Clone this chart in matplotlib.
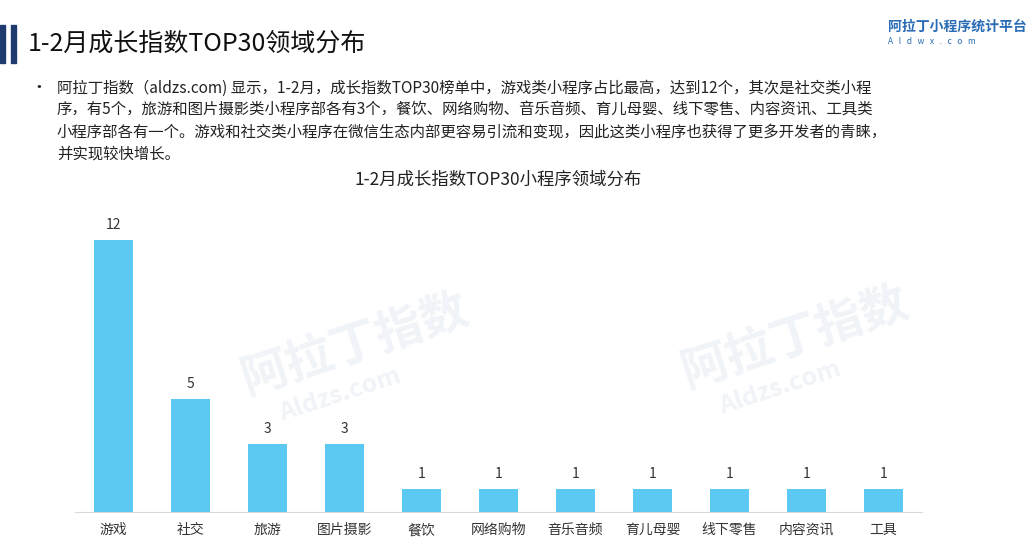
import matplotlib
matplotlib.use("Agg")
import matplotlib.pyplot as plt
from matplotlib.patches import Rectangle

plt.rcParams['font.family'] = ['Noto Sans CJK SC', 'DejaVu Sans']

categories = ["游戏", "社交", "旅游", "图片摄影", "餐饮", "网络购物", "音乐音频", "育儿母婴", "线下零售", "内容资讯", "工具"]
values = [12, 5, 3, 3, 1, 1, 1, 1, 1, 1, 1]

page_title = "1-2月成长指数TOP30领域分布"
chart_title = "1-2月成长指数TOP30小程序领域分布"
body_lines = [
    "阿拉丁指数（aldzs.com) 显示，1-2月，成长指数TOP30榜单中，游戏类小程序占比最高，达到12个，其次是社交类小程",
    "序，有5个，旅游和图片摄影类小程序部各有3个，餐饮、网络购物、音乐音频、育儿母婴、线下零售、内容资讯、工具类",
    "小程序部各有一个。游戏和社交类小程序在微信生态内部更容易引流和变现，因此这类小程序也获得了更多开发者的青睐，",
    "并实现较快增长。",
]

W, H = 1034, 543
fig = plt.figure(figsize=(W / 100, H / 100), dpi=100)

def fx(px):
    return px / W

def fy(py):
    return 1 - py / H

# header bars
for x0 in (0, 11):
    fig.patches.append(Rectangle((fx(x0), fy(63)), fx(5), 38 / H, transform=fig.transFigure,
                                 color="#1F3A6E", zorder=5))
fig.text(fx(28), fy(44), page_title, fontsize=18, color="#111111", va="center", ha="left")

# logo text
fig.text(fx(888), fy(27), "阿拉丁小程序统计平台", fontsize=10, color="#2A6BB5", va="center", ha="left",
         fontweight="bold")
fig.text(fx(888), fy(41), "A   l   d   w   x   .   c   o   m", fontsize=6, color="#2A6BB5", va="center", ha="left")

# bullet paragraph
fig.text(fx(30), fy(88), "•", fontsize=12, color="#222222", va="center", ha="left")
for i, line in enumerate(body_lines):
    fig.text(fx(57), fy(88 + 22 * i), line, fontsize=11.1, color="#222222", va="center", ha="left")

# watermarks
for (x, y) in [(355, 345), (795, 338)]:
    fig.text(fx(x), fy(y), "阿拉丁指数", fontsize=34, color="#F0F3F7", rotation=18,
             va="center", ha="center", fontweight="bold", zorder=0)
    fig.text(fx(x - 15), fy(y + 50), "Aldzs.com", fontsize=18, color="#F0F3F7", rotation=18,
             va="center", ha="center", fontweight="bold", zorder=0)

# chart
ax = fig.add_axes([fx(75), fy(512), fx(922) - fx(75), (512 - 240) / H])
ax.set_zorder(2)
ax.patch.set_alpha(0)
x = list(range(len(categories)))
bars = ax.bar(x, values, width=0.5, color="#5BC9F1")
for xi, v in zip(x, values):
    ax.text(xi, v + 0.35, str(v), ha="center", va="bottom", fontsize=10, color="#333333", clip_on=False)
ax.set_xlim(-0.5, len(categories) - 0.5)
ax.set_ylim(0, 12)
ax.set_xticks(x)
ax.set_xticklabels(categories, fontsize=10, color="#333333")
ax.tick_params(axis="x", length=0, pad=8)
ax.set_yticks([])
for s in ("top", "right", "left"):
    ax.spines[s].set_visible(False)
ax.spines["bottom"].set_color("#D9D9D9")

fig.text(fx(498), fy(180), chart_title, fontsize=12.5, color="#222222", va="center", ha="center")

fig.savefig("out.png", dpi=100)
